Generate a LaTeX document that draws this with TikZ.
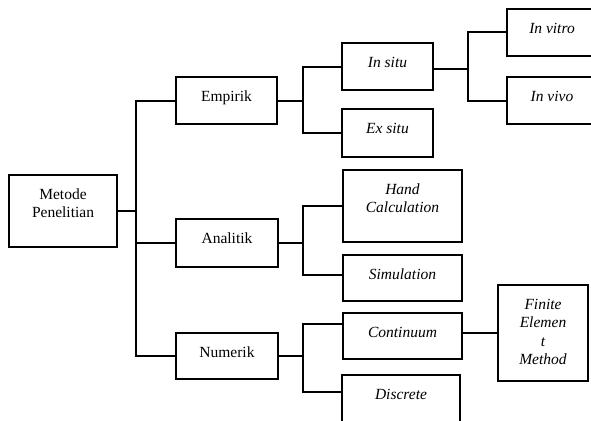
\documentclass[tikz,border=0pt]{standalone}
\usepackage{fontspec}
\setmainfont{Liberation Serif}
\usepackage{tikz}
\usetikzlibrary{calc}
\tikzset{
  box/.style={draw, line width=2pt, inner sep=0pt, anchor=north west,
              font=\fontsize{15.5}{18.5}\selectfont},
  leafbox/.style={box, font=\fontsize{15.5}{18.5}\selectfont\itshape},
  link/.style={line width=2pt},
}
\newcommand{\boxtext}[3]{\parbox[c][#2pt][t]{#1pt}{\centering\rule{0pt}{24pt}#3}}

\begin{document}
\begin{tikzpicture}[x=1pt, y=-1pt]
  \clip (0,0) rectangle (591,420);

  % root and first level
  \node[box] (meth) at (8,174)   {\boxtext{108}{72}{Metode\\Penelitian}};
  \node[box] (emp)  at (175,76)  {\boxtext{101}{47}{Empirik}};
  \node[box] (ana)  at (175,218) {\boxtext{102}{48}{Analitik}};
  \node[box] (num)  at (175,332) {\boxtext{102}{46}{Numerik}};

  % second level
  \node[leafbox] (insitu) at (341,42)  {\boxtext{91}{47}{In situ}};
  \node[leafbox] (exsitu) at (341,108) {\boxtext{91}{48}{Ex situ}};
  \node[leafbox] (hand)   at (342,169) {\boxtext{119}{72}{Hand\\Calculation}};
  \node[leafbox] (sim)    at (342,254) {\boxtext{119}{46}{Simulation}};
  \node[leafbox] (cont)   at (342,312) {\boxtext{119}{46}{Continuum}};
  \node[leafbox] (disc)   at (341,374) {\boxtext{118}{72}{Discrete}};

  % third level
  \node[leafbox] (invitro) at (506,8)   {\boxtext{90}{47}{In vitro}};
  \node[leafbox] (invivo)  at (506,76)  {\boxtext{90}{47}{In vivo}};
  \node[leafbox] (fem)     at (497,284) {\boxtext{90}{96}{Finite\\Elemen\\t\\Method}};

  % junction columns
  \coordinate (trunk) at (136,0);
  \coordinate (fork1) at (303,0);
  \coordinate (fork2) at (468,0);
  \coordinate (situout) at ([yshift=-2.5pt]insitu.east);
  \coordinate (simin)  at ([yshift=3pt]sim.west);
  \coordinate (contin) at ([yshift=-12pt]cont.north west);
  \coordinate (discin) at ([yshift=-18pt]disc.north west);

  % connectors
  \draw[link] (meth.east) -- (meth.east -| trunk);
  \draw[link] (emp.west) -- (emp.west -| trunk) |- (num.west);
  \draw[link] (ana.west) -- (ana.west -| trunk);

  \draw[link] (emp.east) -- (emp.east -| fork1);
  \draw[link] (insitu.west) -- (insitu.west -| fork1) |- (exsitu.west);
  \draw[link] (situout) -- (situout -| fork2);
  \draw[link] (invitro.west) -- (invitro.west -| fork2) |- (invivo.west);

  \draw[link] (ana.east) -- (ana.east -| fork1);
  \draw[link] (hand.west) -- (hand.west -| fork1) |- (simin);

  \draw[link] (num.east) -- (num.east -| fork1);
  \draw[link] (contin) -- (contin -| fork1) |- (discin);
  \draw[link] (fem.west -| cont.east) -- (fem.west);
\end{tikzpicture}
\end{document}
